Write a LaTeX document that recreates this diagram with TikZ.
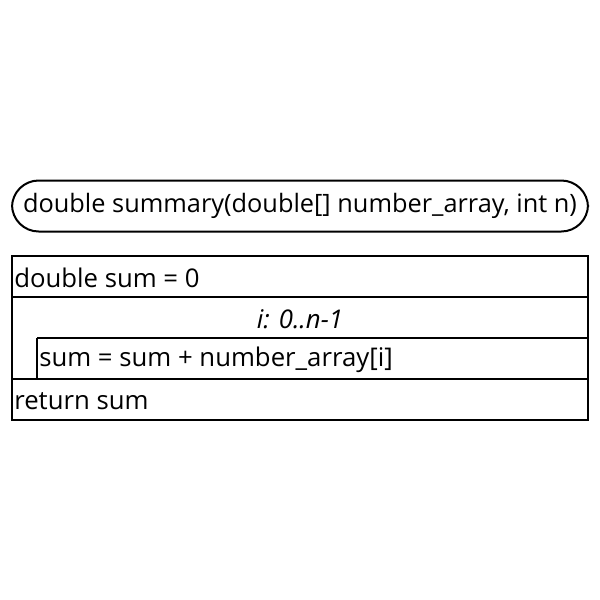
\documentclass[tikz,border=0pt]{standalone}
\usepackage{fontspec}
\setmainfont{Open Sans}
\begin{document}
\begin{tikzpicture}[x=0.75pt,y=-0.75pt,
  box/.style={draw=black,line width=1.5pt},
  txt/.style={inner sep=0pt,anchor=west,font=\fontsize{19.3}{22}\selectfont},
  itxt/.style={inner sep=0pt,font=\fontsize{19.3}{22}\selectfont\itshape}]
\useasboundingbox (0,0) rectangle (600,600);
% header
\node[box,rounded corners=20pt,minimum width=576*0.75pt,minimum height=51*0.75pt,inner sep=0pt,font=\fontsize{19}{22}\selectfont] (head) at (300,206) {double summary(double[] number\_array, int n)};
% outer frame
\coordinate (tl) at (12,256);
\coordinate (br) at (588,420);
\draw[box] (tl) rectangle (br);
\coordinate (r1l) at (12,297); \coordinate (r1r) at (588,297);
\coordinate (r2l) at (37,338); \coordinate (r2r) at (588,338);
\coordinate (r3l) at (12,379); \coordinate (r3r) at (588,379);
\coordinate (ib) at (37,379);
\draw[box] (r1l) -- (r1r);
\draw[box] (r2l) -- (r2r);
\draw[box] (r3l) -- (r3r);
\draw[box] (r2l) -- (ib);
\node[txt] (s1) at (14,278) {double sum = 0};
\node[itxt] (loop) at (300,319) {i: 0..n-1};
\node[txt] (s2) at (39,360) {sum = sum + number\_array[i]};
\node[txt] (s3) at (14,401) {return sum};
\end{tikzpicture}
\end{document}
